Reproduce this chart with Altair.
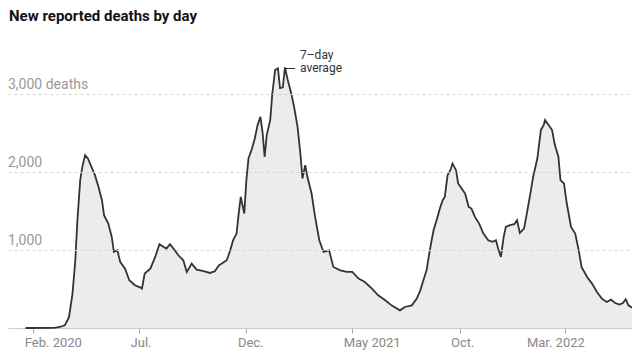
import altair as alt
import pandas as pd

START = "2020-02-01"

day_offset = [-11, 30, 38, 45, 51, 56, 60, 63, 67, 70, 74, 78, 83, 88, 93, 98, 101, 107, 112, 115,
              120, 124, 131, 137, 145, 153, 155, 159, 167, 174, 180, 186, 190, 195, 200, 207, 214, 219,
              226, 233, 243, 252, 259, 265, 269, 276, 281, 285, 290, 293, 296, 301, 304, 307, 312, 316,
              320, 324, 327, 330, 333, 338, 341, 345, 349, 352, 356, 359, 363, 368, 372, 377, 381, 384,
              388, 391, 397, 402, 408, 414, 422, 428, 438, 447, 455, 464, 473, 483, 492, 502, 511, 523,
              530, 540, 547, 552, 556, 561, 566, 571, 576, 580, 584, 587, 591, 595, 598, 603, 606, 611,
              616, 621, 625, 630, 636, 642, 649, 655, 660, 663, 667, 671, 674, 680, 686, 690, 694, 700,
              704, 709, 713, 719, 724, 728, 730, 735, 740, 744, 749, 752, 757, 761, 767, 773, 778, 782,
              790, 797, 804, 811, 818, 824, 830, 836, 841, 845, 849, 854]

deaths_7day = [0, 1, 13, 34, 140, 440, 870, 1385, 1900, 2070, 2220, 2177, 2070, 1963, 1813, 1642, 1449, 1341, 1170, 977,
               998, 849, 763, 613, 549, 519, 506, 699, 763, 913, 1076, 1041, 1020, 1076, 1020, 934, 870, 720,
               827, 750, 729, 707, 729, 806, 827, 870, 998, 1127, 1213, 1470, 1684, 1470, 1899, 2177, 2306, 2434,
               2606, 2713, 2520, 2199, 2477, 2670, 3013, 3313, 3335, 3080, 3090, 3347, 3185, 3013, 2842, 2584, 2242, 1920,
               2092, 1942, 1727, 1427, 1127, 977, 998, 784, 741, 720, 720, 634, 591, 506, 420, 356, 291, 227,
               270, 291, 377, 480, 600, 740, 1020, 1256, 1406, 1534, 1642, 1684, 1963, 2027, 2113, 2027, 1856, 1792,
               1727, 1556, 1534, 1427, 1341, 1213, 1127, 1106, 1127, 1020, 913, 1170, 1299, 1320, 1333, 1384, 1221, 1277,
               1470, 1727, 1942, 2177, 2542, 2606, 2670, 2606, 2542, 2349, 2199, 1899, 1856, 1599, 1299, 1213, 998, 784,
               656, 570, 463, 377, 334, 364, 321, 300, 321, 369, 291, 261]

tick_months = ["2020-02", "2020-07", "2020-12", "2021-05", "2021-10", "2022-03"]
tick_labels = ["Feb. 2020", "Jul.", "Dec.", "May 2021", "Oct.", "Mar. 2022"]
grid_values = [1000, 2000, 3000]
grid_labels = ["1,000", "2,000", "3,000 deaths"]
title_text = "New reported deaths by day"
note_lines = ["7\u2013day", "average"]

dates = (pd.Timestamp(START) + pd.to_timedelta(day_offset, unit="D")).strftime("%Y-%m-%d")
df = pd.DataFrame({"date": list(dates), "deaths": deaths_7day})

tick_values = [alt.DateTime(year=int(m[:4]), month=int(m[5:]), date=1) for m in tick_months]
label_expr = "".join(
    f"timeFormat(datum.value, '%Y-%m') == '{m}' ? '{lab}' : " for m, lab in zip(tick_months, tick_labels)
) + "''"
last_test = f"timeFormat(datum.value, '%Y-%m') == '{tick_months[-1]}'"

x_enc = alt.X(
    "date:T",
    scale=alt.Scale(domain=[alt.DateTime(year=2019, month=12, date=27),
                            alt.DateTime(year=2022, month=6, date=4)]),
    axis=alt.Axis(values=tick_values, labelExpr=label_expr, title=None, grid=False,
                  domainColor="#cccccc", tickColor="#aaaaaa", tickSize=5,
                  labelColor="#888888", labelFont="Roboto", labelFontSize=13, labelPadding=3,
                  labelAlign="left",
                  labelOffset={"condition": {"test": last_test, "value": -39}, "value": -9}),
)
y_scale = alt.Scale(domain=[0, 4110], nice=False)
y_enc = alt.Y(
    "deaths:Q", scale=y_scale,
    axis=alt.Axis(values=grid_values, labels=False, ticks=False, domain=False, grid=True,
                  gridDash=[3, 3], gridColor="#d6d6d6", title=None, zindex=1),
)

base = alt.Chart(df)
area = base.mark_area(color="#ececec").encode(x=x_enc, y=y_enc)
line = base.mark_line(color="#333333", strokeWidth=1.8).encode(x="date:T", y="deaths:Q")

grid_df = pd.DataFrame({"deaths": grid_values, "label": grid_labels})
ylabels = alt.Chart(grid_df).mark_text(
    align="left", baseline="alphabetic", dy=-5, font="Roboto", fontSize=14, color="#999999"
).encode(x=alt.value(0), y="deaths:Q", text="label:N")

title = alt.Chart(pd.DataFrame({"t": [title_text]})).mark_text(
    align="left", baseline="alphabetic", font="Roboto", fontSize=15, fontWeight="bold", color="#121212"
).encode(x=alt.value(1), y=alt.value(13), text="t:N")

note1 = alt.Chart(pd.DataFrame({"t": [note_lines[0]]})).mark_text(
    align="left", baseline="alphabetic", font="Roboto", fontSize=12, color="#333333"
).encode(x=alt.value(292), y=alt.value(51), text="t:N")
note2 = alt.Chart(pd.DataFrame({"t": [note_lines[1]]})).mark_text(
    align="left", baseline="alphabetic", font="Roboto", fontSize=12, color="#333333"
).encode(x=alt.value(292), y=alt.value(64), text="t:N")
leader = alt.Chart(pd.DataFrame({"a": [0]})).mark_rule(color="#333333", strokeWidth=1).encode(
    x=alt.value(278), x2=alt.value(287), y=alt.value(60.5)
)

chart = alt.layer(area, line, ylabels, title, note1, note2, leader).properties(
    width=624, height=320,
    autosize=alt.AutoSizeParams(type="none"),
    padding={"left": 0, "top": 0, "right": 0, "bottom": 24},
).configure_view(stroke=None)

chart.save("out.html", embed_options={"renderer": "svg", "actions": False})
